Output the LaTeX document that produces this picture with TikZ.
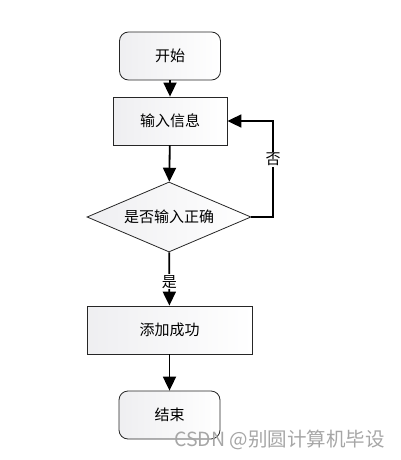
\documentclass[tikz,border=0pt]{standalone}
\usepackage{fontspec}
\setmainfont{Noto Sans CJK SC}
\usetikzlibrary{shapes.geometric,arrows.meta}
\begin{document}
\begin{tikzpicture}[x=1pt,y=-1pt,
  every node/.style={font=\fontsize{15}{17}\selectfont},
  boxfill/.style={draw=black!85, line width=0.8pt, shading angle=135, left color=blue!8!gray!12, right color=white},
  roundbox/.style={boxfill, rounded corners=9pt, minimum width=101pt, minimum height=48pt, inner sep=0pt},
  procbox/.style={boxfill, minimum width=114pt, minimum height=48pt, inner sep=0pt},
  widebox/.style={boxfill, minimum width=165pt, minimum height=48pt, inner sep=0pt},
  decision/.style={boxfill, diamond, minimum width=164pt, minimum height=70pt, inner sep=0pt, aspect=2.34},
  flow/.style={line width=1.8pt, -{Triangle[length=14pt,width=13pt]}},
  lbl/.style={fill=white, inner sep=1pt}
]
\useasboundingbox (0,0) rectangle (401,460);
\node[roundbox] (start) at (170,56) {开始};
\node[procbox] (input) at (170,121) {输入信息};
\node[decision] (check) at (169,217) {是否输入正确};
\node[widebox] (add) at (169.5,330) {添加成功};
\node[roundbox] (end) at (169.5,415) {结束};
\coordinate (c1) at (273,217);
\coordinate (c2) at (273,121);
\draw[flow] (start) -- (input);
\draw[flow] (input) -- (check);
\draw[flow] (check) -- node[lbl, pos=0.55] {是} (add);
\draw[flow] (add) -- (end);
\draw[flow] (check.east) -- (c1) -- node[lbl, pos=0.6] {否} (c2) -- (input.east);
\node[text=black!35, font=\fontsize{19.5}{21}\selectfont, anchor=center] (wm) at (279.5,440) {CSDN @别圆计算机毕设};
\end{tikzpicture}
\end{document}
